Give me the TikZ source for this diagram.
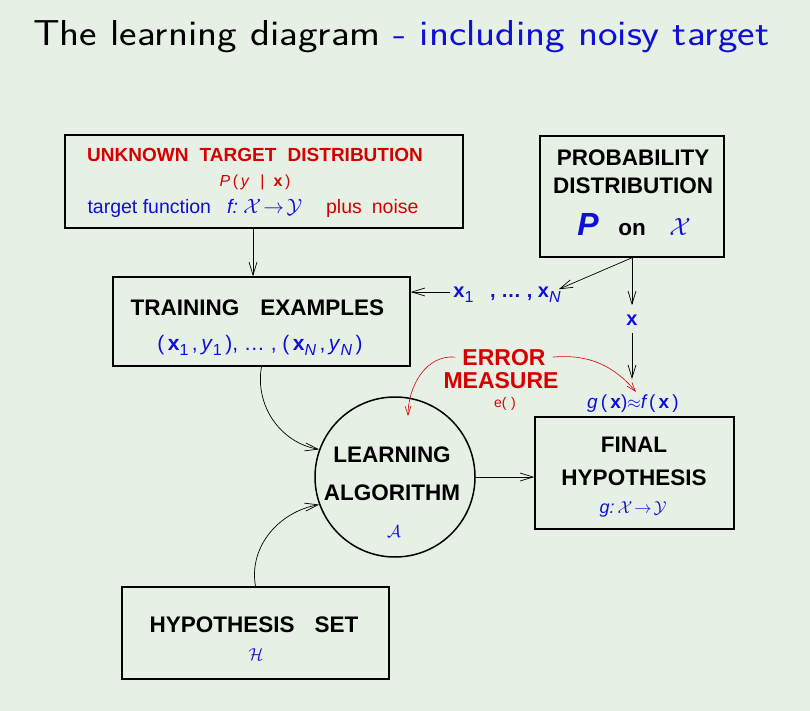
\documentclass[tikz,border=0pt]{standalone}
\usepackage{graphicx}
\usepackage{fontspec}
\newfontfamily\ar{Liberation Sans}
\usetikzlibrary{arrows.meta}
\definecolor{bg}{RGB}{230,240,228}
\definecolor{tblue}{RGB}{15,15,215}
\definecolor{tred}{RGB}{215,0,0}
\newcommand{\sbs}[1]{\raisebox{-5pt}{\fontsize{16}{16}\selectfont #1}}
\begin{document}
\begin{tikzpicture}[x=1pt,y=-1pt,
 box/.style={draw, line width=1.5pt, inner sep=0pt, minimum width=#1},
 arr/.style={-{Straight Barb[length=13pt,width=8pt]}, line width=0.7pt},
 rarr/.style={-{Straight Barb[length=9pt,width=6pt]}, line width=0.6pt, draw=tred},
 lbl/.style={inner sep=0pt, anchor=base, font=\ar\bfseries\fontsize{22.5}{26}\selectfont},
 txt/.style={inner sep=0pt, anchor=base, font=\ar\fontsize{#1}{#1}\selectfont},
]
\fill[bg] (0,0) rectangle (810,711);
\useasboundingbox (0,0) rectangle (810,711);

% title
\node[anchor=base west, inner sep=0pt, font=\sffamily\fontsize{36}{40}\selectfont] (title) at (33,46)
  {\scalebox{1.155}[1]{The learning diagram {\color{tblue}- including noisy target}}};

% boxes
\node[box=398pt, minimum height=93pt] (target) at (264,181.5) {};
\node[box=184pt, minimum height=121pt] (prob) at (632,196.5) {};
\node[box=297pt, minimum height=89pt] (train) at (261.5,321.5) {};
\node[box=199pt, minimum height=112pt] (final) at (634.5,473) {};
\node[box=267pt, minimum height=92pt] (hyp) at (255.5,633) {};
\node[draw, circle, line width=1.5pt, minimum size=160pt, inner sep=0pt] (alg) at (395,477) {};

% target box texts
\node[lbl, text=tred, font=\ar\bfseries\fontsize{19}{22}\selectfont] (t1) at (255,162)
  {UNKNOWN\hspace{6pt} TARGET\hspace{6pt} DISTRIBUTION};
\node[txt=16, text=tred] (t2) at (255,187)
  {\itshape P\,\upshape(\,\itshape y\,\upshape\ \ |\ \ \bfseries x\mdseries\,)};
\node[txt=19.5, text=tblue] (t3) at (253,214)
  {target function\hspace{16pt}\itshape f:\upshape\ $\mathcal{X}\!\rightarrow\!\mathcal{Y}$\hspace{24pt}{\color{tred}plus\hspace{10pt}noise}};

% probability box texts
\node[lbl] (p1) at (633,166) {PROBABILITY};
\node[lbl] (p2) at (633,194) {DISTRIBUTION};
\node[lbl, text=tblue, font=\ar\bfseries\itshape\fontsize{32}{32}\selectfont] (p3a) at (588,236) {P};
\node[lbl] (p3b) at (632,236) {on};
\node[lbl, text=tblue, font=\fontsize{28}{28}\selectfont] (p3c) at (680,236) {$\mathcal{X}$};

% training
\node[lbl] (tr1) at (257.5,315) {TRAINING\hspace{21pt}EXAMPLES};
\node[txt=21, text=tblue] (tr2) at (260,350)
  {(\,\textbf{x}\sbs{1}\,,\,\textit{y}\sbs{1}\,), \ldots\ , (\,\textbf{x}\sbs{\itshape N}\,,\,\textit{y}\sbs{\itshape N}\,)};

% x samples
\node[txt=20, text=tblue, font=\ar\bfseries\fontsize{20}{20}\selectfont] (xs) at (507,297)
  {x\sbs{\mdseries 1}\ \ \ , \ldots\ , x\sbs{\mdseries\itshape N}};
\node[txt=20, text=tblue, font=\ar\bfseries\fontsize{20}{20}\selectfont] (xlab) at (632,325) {x};

% error measure
\node[lbl, text=tred, font=\ar\bfseries\fontsize{23}{26}\selectfont] (e1) at (504,365) {ERROR};
\node[lbl, text=tred, font=\ar\bfseries\fontsize{23}{26}\selectfont] (e2) at (501,388) {MEASURE};
\node[txt=14, text=tred] (e3) at (505,407) {e(\,\,)};

\node[txt=19, text=tblue] (gx) at (633,408)
  {\itshape g\upshape\,(\,\bfseries x\mdseries)$\approx$\itshape f\upshape\,(\,\bfseries x\mdseries\,)};

% learning algorithm
\node[lbl] (a1) at (392,462) {LEARNING};
\node[lbl] (a2) at (392,500) {ALGORITHM};
\node[txt=16, text=tblue] (a3) at (394,537) {$\mathcal{A}$};

% final hypothesis
\node[lbl] (f1) at (634,452) {FINAL};
\node[lbl] (f2) at (634,485) {HYPOTHESIS};
\node[txt=18, text=tblue] (f3) at (633,513) {\itshape g:\upshape\,$\mathcal{X}\!\rightarrow\!\mathcal{Y}$};

% hypothesis set
\node[lbl] (h1) at (254,632) {HYPOTHESIS\hspace{20pt}SET};
\node[txt=17, text=tblue] (h2) at (256,660) {$\mathcal{H}$};

% connectors
\coordinate (xw) at ([xshift=-3pt,yshift=5pt]xs.base west);
\draw[arr] ([xshift=-11pt]target.south) -- ([xshift=-8.5pt]train.north);
\draw[arr] (xw) -- (train.east |- xw);
\draw[arr] (prob.south) -- ([xshift=-2pt,yshift=-3pt]xs.north east);
\draw[arr, shorten >=9pt] (prob.south) -- (xlab.north);
\draw[arr, shorten <=8pt, shorten >=15pt] (xlab.south) -- (xlab.south |- gx.north);
\draw[arr] (alg.east) -- (alg.east -| final.west);
\draw[arr] (train.south) to[out=-100, in=170] (alg.160);
\draw[arr] (hyp.north) to[out=100, in=190] (alg.200);

\coordinate (ea) at (408,416);
\coordinate (eb) at (636,392);
\draw[rarr] ([xshift=-7pt]e1.west) to[out=175, in=90] (ea);
\draw[rarr] ([xshift=7pt]e1.east) to[out=5, in=130] (eb);
\end{tikzpicture}
\end{document}
